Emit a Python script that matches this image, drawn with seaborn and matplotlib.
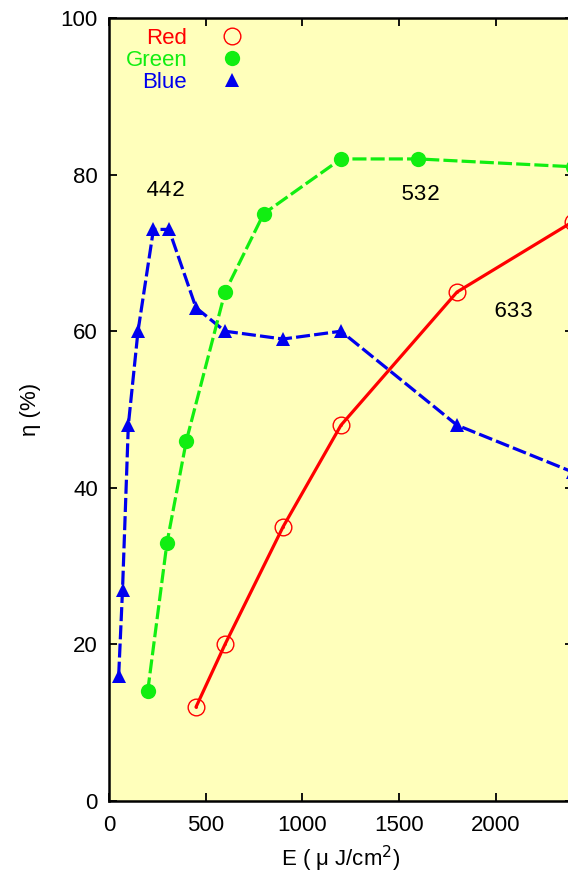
import matplotlib
matplotlib.use('Agg')
import matplotlib.pyplot as plt
from matplotlib.lines import Line2D
import seaborn as sns

# data
red_x = [450, 600, 900, 1200, 1800, 2400]
red_y = [12, 20, 35, 48, 65, 74]

green_x = [200, 300, 400, 600, 800, 1200, 1600, 2400]
green_y = [14, 33, 46, 65, 75, 82, 82, 81]

blue_x = [50, 70, 100, 150, 230, 310, 450, 600, 900, 1200, 1800, 2400]
blue_y = [16, 27, 48, 60, 73, 73, 63, 60, 59, 60, 48, 42]

labels = ['442', '532', '633']
label_x = [295, 1610, 2090]
label_y = [78, 77.5, 62.5]

RED = '#ff0000'
GREEN = '#11ee11'
BLUE = '#0000ee'

sns.set_style('ticks')
plt.rcParams['font.family'] = ['Liberation Sans', 'DejaVu Sans']
plt.rcParams['text.color'] = 'black'
plt.rcParams['axes.labelcolor'] = 'black'
plt.rcParams['xtick.color'] = 'black'
plt.rcParams['ytick.color'] = 'black'

fig = plt.figure(figsize=(5.68, 8.73), dpi=100)
# right spine sits just past the canvas edge, as in the cropped original
ax = fig.add_axes([109 / 568, 72 / 873, 464 / 568, 783 / 873])
ax.set_facecolor('#ffffbb')

sns.lineplot(x=blue_x, y=blue_y, ax=ax, color=BLUE, lw=2.3, sort=False,
             marker='^', markersize=10, markeredgewidth=0,
             linestyle=(0, (4.4, 1.3)))
sns.lineplot(x=green_x, y=green_y, ax=ax, color=GREEN, lw=2.3, sort=False,
             marker='o', markersize=11, markeredgewidth=0,
             linestyle=(0, (4.4, 1.3)))
sns.lineplot(x=red_x, y=red_y, ax=ax, color=RED, lw=2.3, sort=False,
             marker='o', markersize=12, markerfacecolor='none',
             markeredgecolor=RED, markeredgewidth=1.0)
ax.plot(red_x, red_y, ls='none', marker='.', ms=2, color=RED)

for t, x, y in zip(labels, label_x, label_y):
    ax.text(x, y, t, ha='center', va='center', fontsize=16,
            family='Liberation Mono', color='black')

ax.set_xlim(0, 2400)
ax.set_ylim(0, 100)
ax.set_xticks([0, 500, 1000, 1500, 2000])
ax.set_yticks([0, 20, 40, 60, 80, 100])
ax.tick_params(direction='in', length=6, width=1.3, labelsize=16,
               top=True, right=True)
ax.tick_params(axis='x', pad=10)
ax.tick_params(axis='y', pad=8)
for s in ax.spines.values():
    s.set_linewidth(1.8)
    s.set_color('black')
    s.set_visible(True)

ax.set_xlabel('E ( μ J/cm$^2$)', fontsize=16, labelpad=6)
ax.set_ylabel('η (%)', fontsize=16, labelpad=14)

handles = [
    Line2D([], [], ls='none', marker='o', ms=12, mfc='none', mec=RED, mew=1.0),
    Line2D([], [], ls='none', marker='o', ms=11, color=GREEN, mew=0),
    Line2D([], [], ls='none', marker='^', ms=10, color=BLUE, mew=0),
]
leg = ax.legend(handles, ['Red', 'Green', 'Blue'], loc='upper left',
                frameon=False, markerfirst=False,
                fontsize=16, handlelength=1.2, handletextpad=1.4,
                labelspacing=0.05, borderaxespad=0.15, borderpad=0.3,
                labelcolor=[RED, GREEN, BLUE])
leg.set_bbox_to_anchor((0.014, 1.0), transform=ax.transAxes)

fig.savefig('out.png', dpi=100, facecolor='white')
